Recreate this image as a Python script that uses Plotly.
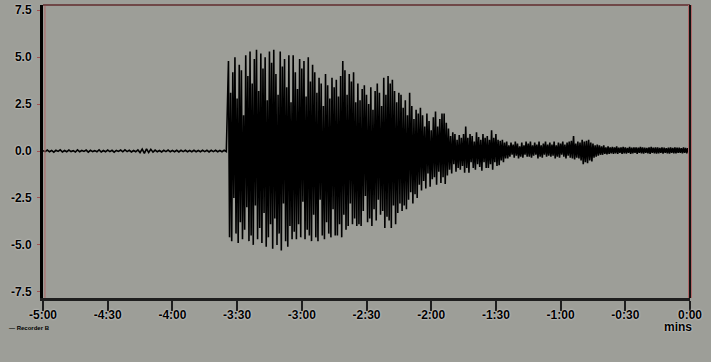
import numpy as np
import plotly.graph_objects as go

# ---- data: amplitude readings ----
# quiet part: one reading per second from -5:00 (-300 s) to -215 s
quiet_start_s, quiet_step_s = -300, 1.0
quiet_amp = [
    0.02, -0.03, 0.05, -0.04, 0.03, -0.06, 0.04, -0.02, 0.06, -0.05,
    0.03, -0.04, 0.05, -0.03, 0.02, -0.05, 0.06, -0.04, 0.03, -0.02,
    0.05, -0.06, 0.04, -0.03, 0.02, -0.04, 0.06, -0.05, 0.03, -0.04,
    0.05, -0.03, 0.04, -0.06, 0.03, -0.02, 0.05, -0.04, 0.06, -0.03,
    0.04, -0.05, 0.03, -0.04, 0.06, -0.08, 0.10, -0.12, 0.12, -0.08,
    0.09, -0.06, 0.05, -0.04, 0.03, -0.05, 0.04, -0.03, 0.05, -0.04,
    0.03, -0.04, 0.04, -0.05, 0.04, -0.03, 0.04, -0.04, 0.03, -0.04,
    0.04, -0.04, 0.03, -0.04, 0.04, -0.03, 0.04, -0.05, 0.04, -0.03,
    0.04, -0.04, 0.03, -0.04, 0.04, -0.03,
]

# shaking part: two readings per second from -214 s to 0 s
shaking_start_s, shaking_step_s = -214, 0.5
shaking_amp = [
    # -214 .. -204.5
    4.8, -4.6, 3.1, -4.8, 4.2, -2.5, 5.0, -4.4, 2.8, -4.9,
    4.6, -3.8, 4.3, -4.7, 1.9, -4.2, 5.1, -3.0, 4.0, -4.8,
    # -204 .. -194.5
    5.3, -4.5, 3.6, -5.0, 4.9, -2.9, 5.4, -4.7, 3.2, -4.1,
    5.2, -4.9, 4.4, -3.3, 5.0, -5.1, 2.7, -4.6, 5.3, -3.9,
    # -194 .. -184.5
    4.7, -5.2, 5.4, -3.6, 4.1, -5.0, 3.0, -4.4, 5.3, -5.3,
    4.5, -2.8, 4.9, -4.8, 3.4, -5.1, 5.1, -4.0, 2.6, -4.7,
    # -184 .. -174.5
    5.1, -4.3, 4.2, -4.7, 3.3, -3.9, 4.9, -4.6, 4.4, -2.7,
    4.8, -4.7, 2.9, -4.2, 5.0, -4.5, 3.7, -4.8, 4.6, -3.4,
    # -174 .. -164.5
    4.2, -4.6, 3.1, -4.8, 3.9, -2.6, 3.6, -4.5, 2.4, -4.7,
    4.1, -3.8, 3.5, -4.4, 2.8, -4.6, 3.9, -3.1, 3.4, -4.5,
    # -164 .. -154.5
    3.8, -4.5, 2.9, -3.9, 4.0, -4.6, 4.8, -3.4, 4.3, -4.2,
    3.0, -4.0, 4.1, -2.8, 3.7, -3.9, 4.2, -3.6, 2.6, -4.0,
    # -154 .. -144.5
    3.6, -3.9, 2.7, -4.0, 3.3, -3.2, 3.5, -2.4, 3.0, -3.8,
    2.5, -3.6, 3.4, -4.0, 2.2, -3.1, 3.2, -3.7, 3.6, -2.6,
    # -144 .. -134.5
    3.1, -3.4, 2.4, -3.2, 3.9, -4.1, 3.0, -3.5, 4.0, -3.7,
    3.6, -4.1, 3.8, -2.9, 3.2, -3.9, 2.6, -3.3, 3.1, -2.8,
    # -134 .. -124.5
    3.0, -3.2, 2.3, -2.9, 2.7, -3.1, 1.9, -2.6, 3.1, -2.2,
    2.4, -2.8, 1.7, -2.3, 2.2, -2.5, 2.0, -1.8, 2.3, -2.1,
    # -124 .. -114.5
    1.9, -1.6, 1.3, -2.0, 2.0, -1.2, 1.6, -1.9, 1.1, -1.5,
    1.8, -1.4, 2.1, -1.8, 1.3, -1.1, 1.7, -1.7, 2.0, -1.4,
    # -114 .. -104.5
    2.0, -1.75, 1.5, -1.3, 1.2, -1.0, 0.8, -1.2, 1.0, -0.7,
    0.9, -1.1, 0.6, -0.9, 0.85, -1.0, 0.7, -0.8, 0.9, -1.15,
    # -104 .. -94.5
    1.3, -0.9, 0.7, -1.15, 0.9, -0.6, 0.8, -0.9, 0.5, -1.0,
    1.0, -0.7, 0.75, -0.85, 0.6, -1.05, 0.9, -0.6, 0.7, -0.9,
    # -94 .. -85.5
    0.8, -0.9, 0.6, -0.7, 1.1, -1.0, 0.7, -0.6, 0.9, -0.8,
    0.6, -0.75, 0.55, -0.5, 0.6, -0.6, 0.45, -0.4,
    # -85 .. -75.5
    0.5, -0.4, 0.3, -0.3, 0.45, -0.2, 0.35, -0.35, 0.5, -0.25,
    0.4, -0.4, 0.25, -0.3, 0.45, -0.35, 0.3, -0.2, 0.5, -0.3,
    # -75 .. -65.5
    0.4, -0.3, 0.5, -0.35, 0.3, -0.25, 0.45, -0.2, 0.35, -0.4,
    0.5, -0.3, 0.3, -0.35, 0.4, -0.2, 0.5, -0.3, 0.35, -0.25,
    # -65 .. -55.5
    0.45, -0.3, 0.35, -0.25, 0.5, -0.4, 0.3, -0.3, 0.45, -0.35,
    0.4, -0.2, 0.5, -0.3, 0.35, -0.4, 0.45, -0.25, 0.5, -0.35,
    # -55 .. -45.5
    0.55, -0.4, 0.8, -0.45, 0.4, -0.35, 0.5, -0.4, 0.45, -0.5,
    0.6, -0.7, 0.5, -0.6, 0.55, -0.65, 0.6, -0.5, 0.45, -0.55,
    # -45 .. -35.5
    0.4, -0.35, 0.3, -0.3, 0.35, -0.25, 0.3, -0.2, 0.25, -0.2,
    0.3, -0.15, 0.2, -0.18, 0.25, -0.15, 0.2, -0.12, 0.22, -0.15,
    # -35 .. -25.5
    0.2, -0.12, 0.25, -0.15, 0.18, -0.1, 0.2, -0.15, 0.22, -0.12,
    0.2, -0.14, 0.17, -0.1, 0.22, -0.15, 0.18, -0.12, 0.2, -0.1,
    # -25 .. -15.5
    0.2, -0.15, 0.18, -0.1, 0.22, -0.12, 0.2, -0.14, 0.18, -0.1,
    0.16, -0.12, 0.2, -0.15, 0.22, -0.1, 0.18, -0.12, 0.2, -0.14,
    # -15 .. -5.5
    0.2, -0.12, 0.16, -0.1, 0.2, -0.14, 0.18, -0.1, 0.15, -0.12,
    0.18, -0.14, 0.2, -0.1, 0.16, -0.12, 0.2, -0.13, 0.18, -0.1,
    # -5 .. 0
    0.18, -0.1, 0.15, -0.12, 0.2, -0.1, 0.16, -0.12, 0.15, -0.1, 0.1,
]

x_tick_vals = [-300, -270, -240, -210, -180, -150, -120, -90, -60, -30, 0]
x_tick_text = ["-5:00", "-4:30", "-4:00", "-3:30", "-3:00", "-2:30",
               "-2:00", "-1:30", "-1:00", "-0:30", "0:00"]
y_tick_vals = [7.5, 5.0, 2.5, 0.0, -2.5, -5.0, -7.5]
y_tick_text = ["7.5", "5.0", "2.5", "0.0", "-2.5", "-5.0", "-7.5"]
series_name = "Recorder B"
x_unit = "mins"

times = np.concatenate([
    quiet_start_s + quiet_step_s * np.arange(len(quiet_amp)),
    shaking_start_s + shaking_step_s * np.arange(len(shaking_amp)),
])
amplitude = quiet_amp + shaking_amp

BG = "#9d9e98"
FAMILY = "Liberation Sans, Arial, sans-serif"
tick_font = dict(family=FAMILY, size=12, color="#000000", weight="bold",
                 shadow="0px 0px 2px #ececec")

fig = go.Figure()
fig.add_trace(go.Scatter(x=times, y=amplitude, mode="lines", name=series_name,
                         line=dict(color="#000000", width=1.6),
                         showlegend=False, hoverinfo="skip"))

fig.update_layout(
    width=711, height=362,
    margin=dict(l=43, r=21, t=3, b=64),
    paper_bgcolor=BG, plot_bgcolor=BG,
    xaxis=dict(range=[-300, 0], tickvals=x_tick_vals, ticktext=x_tick_text,
               showgrid=False, zeroline=False, showline=True,
               linecolor="#1e1e1e", linewidth=3,
               ticks="outside", ticklen=10, tickwidth=2, tickcolor="#1e1e1e",
               tickfont=tick_font, ticklabelstandoff=-6),
    yaxis=dict(range=[-7.83, 7.78], tickvals=y_tick_vals, ticktext=y_tick_text,
               showgrid=False, zeroline=False, showline=True,
               linecolor="#000000", linewidth=3,
               ticks="outside", ticklen=3, tickwidth=1, tickcolor="#a05050",
               tickfont=tick_font, ticklabelstandoff=3),
    shapes=[
        dict(type="line", xref="paper", yref="paper", x0=0.003, x1=0.003,
             y0=0, y1=1, line=dict(color="#b06868", width=1), layer="above"),
        dict(type="line", xref="paper", yref="paper", x0=0, x1=1, y0=1, y1=1,
             line=dict(color="#704848", width=2), layer="above"),
        dict(type="line", xref="paper", yref="paper", x0=1, x1=1, y0=0, y1=1,
             line=dict(color="#b06868", width=4), layer="above"),
        dict(type="line", xref="paper", yref="paper", x0=1, x1=1, y0=0, y1=1,
             line=dict(color="#111111", width=2), layer="above"),
    ],
    annotations=[
        dict(xref="paper", yref="paper", x=0.981, y=-0.10, xanchor="center",
             yanchor="middle", text=x_unit, showarrow=False, font=tick_font),
        dict(xref="paper", yref="paper", x=-0.055, y=-0.102, xanchor="left",
             yanchor="middle", text="\u2014 " + series_name, showarrow=False,
             font=dict(family=FAMILY, size=6, color="#000000", weight="bold")),
    ],
)

fig.write_html("out.html")
